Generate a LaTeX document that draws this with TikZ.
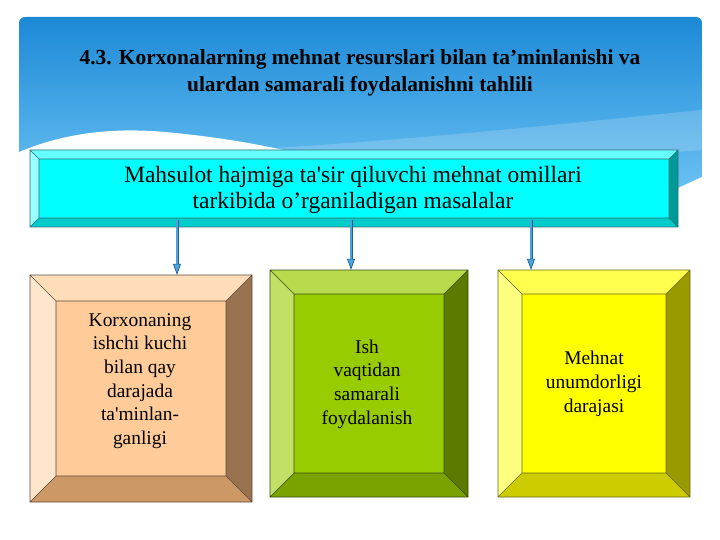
\documentclass[tikz,border=0pt]{standalone}
\usepackage{fontspec}
\newfontfamily\tnr{Liberation Serif}
\usetikzlibrary{arrows.meta}
\definecolor{hdtop}{RGB}{28,137,214}
\definecolor{hdbot}{RGB}{105,192,242}
% top box
\definecolor{Tface}{HTML}{00FFFF}\definecolor{Ttop}{HTML}{66FFFF}\definecolor{Tleft}{HTML}{99FFFF}
\definecolor{Tbot}{HTML}{00CCCC}\definecolor{Tright}{HTML}{009999}\definecolor{Tline}{HTML}{2F6F6F}
% box 1
\definecolor{Aface}{HTML}{FFCC99}\definecolor{Atop}{HTML}{FFDDB8}\definecolor{Aleft}{HTML}{FFE5CC}
\definecolor{Abot}{HTML}{CC9966}\definecolor{Aright}{HTML}{997350}\definecolor{Aline}{HTML}{5A4A3A}
% box 2
\definecolor{Bface}{HTML}{99CC00}\definecolor{Btop}{HTML}{B8DB4D}\definecolor{Bleft}{HTML}{C2E066}
\definecolor{Bbot}{HTML}{7AA300}\definecolor{Bright}{HTML}{5C7A00}\definecolor{Bline}{HTML}{3A4A10}
% box 3
\definecolor{Cface}{HTML}{FFFF00}\definecolor{Ctop}{HTML}{FFFF4D}\definecolor{Cleft}{HTML}{FFFF80}
\definecolor{Cbot}{HTML}{CCCC00}\definecolor{Cright}{HTML}{999900}\definecolor{Cline}{HTML}{6A6A20}
\definecolor{arrdark}{HTML}{1F5F99}
\definecolor{arrlight}{HTML}{4FA3DC}
% #1 x1, #2 y1, #3 x2, #4 y2, #5 bevel, #6 colour prefix
\newcommand\bevelbox[6]{%
  \fill[#6top] (#1,#2) -- (#3,#2) -- ({#3-#5},{#2+#5}) -- ({#1+#5},{#2+#5}) -- cycle;
  \fill[#6left] (#1,#2) -- ({#1+#5},{#2+#5}) -- ({#1+#5},{#4-#5}) -- (#1,#4) -- cycle;
  \fill[#6bot] (#1,#4) -- ({#1+#5},{#4-#5}) -- ({#3-#5},{#4-#5}) -- (#3,#4) -- cycle;
  \fill[#6right] (#3,#2) -- (#3,#4) -- ({#3-#5},{#4-#5}) -- ({#3-#5},{#2+#5}) -- cycle;
  \fill[#6face] ({#1+#5},{#2+#5}) rectangle ({#3-#5},{#4-#5});
  \draw[#6line, line width=0.6bp] (#1,#2) rectangle (#3,#4)
     ({#1+#5},{#2+#5}) rectangle ({#3-#5},{#4-#5})
     (#1,#2) -- ({#1+#5},{#2+#5}) (#3,#2) -- ({#3-#5},{#2+#5})
     (#1,#4) -- ({#1+#5},{#4-#5}) (#3,#4) -- ({#3-#5},{#4-#5});
}
\tikzset{
  title/.style={font=\tnr\bfseries\fontsize{21.5}{27}\selectfont, align=center, text=black, inner sep=0},
  toptext/.style={font=\tnr\fontsize{23.5}{26.5}\selectfont, align=center, text=black, inner sep=0},
  boxtext/.style={font=\tnr\fontsize{19.5}{23.8}\selectfont, align=center, text=black, inner sep=0},
  frame/.style={inner sep=0, draw=none},
  arr/.style={draw=arrdark, line width=0.7bp, double=arrlight, double distance=1.6bp,
    -{Triangle[length=11bp, width=8bp, fill=arrlight]}}
}
\begin{document}
\begin{tikzpicture}[x=1bp, y=-1bp]
\useasboundingbox (0,0) rectangle (720,540);
\fill[white] (0,0) rectangle (720,540);
% header panel
\shade[top color=hdtop, bottom color=hdbot, rounded corners=6bp] (19,17) rectangle (702,188);
\fill[white, opacity=0.18] (240,150) .. controls (420,140) and (580,122) .. (702,110)
   -- (702,150) .. controls (600,158) and (420,162) .. (240,158) -- cycle;
\fill[white] (17,153) .. controls (60,134) and (110,127) .. (165,132)
   .. controls (220,137) and (280,147) .. (320,160) -- (320,200) -- (17,200) -- cycle;
\fill[white] (678,188) -- (704,176) -- (704,200) -- (678,200) -- cycle;
\node[title] (title) at (360,73) {4.3. Korxonalarning mehnat resurslari bilan ta’minlanishi va\\ulardan samarali foydalanishni tahlili};
% top box
\bevelbox{30}{150}{678}{227}{9}{T}
\node[frame, minimum width=648bp, minimum height=77bp] (top) at (354,188.5) {};
\node[toptext] (toptxt) at (353,190) {Mahsulot hajmiga ta'sir qiluvchi mehnat omillari\\tarkibida o’rganiladigan masalalar};
% lower boxes
\bevelbox{30}{275}{252}{502}{26}{A}
\node[frame, minimum width=222bp, minimum height=227bp] (b1) at (141,388.5) {};
\node[boxtext] (t1) at (140,381) {Korxonaning\\ishchi kuchi\\bilan qay\\darajada\\ta'minlan-\\ganligi};
\bevelbox{270}{270}{468}{497}{24}{B}
\node[frame, minimum width=198bp, minimum height=227bp] (b2) at (369,383.5) {};
\node[boxtext] (t2) at (367,384) {Ish\\vaqtidan\\samarali\\foydalanish};
\bevelbox{498}{270}{690}{497}{24}{C}
\node[frame, minimum width=192bp, minimum height=227bp] (b3) at (594,383.5) {};
\node[boxtext] (t3) at (594,384) {Mehnat\\unumdorligi\\darajasi};
% connectors
\coordinate (s1) at (177,220);
\coordinate (s2) at (351,220);
\coordinate (s3) at (531,220);
\draw[arr] (s1) -- (s1 |- b1.north);
\draw[arr] (s2) -- (s2 |- b2.north);
\draw[arr] (s3) -- (s3 |- b3.north);
\end{tikzpicture}
\end{document}
